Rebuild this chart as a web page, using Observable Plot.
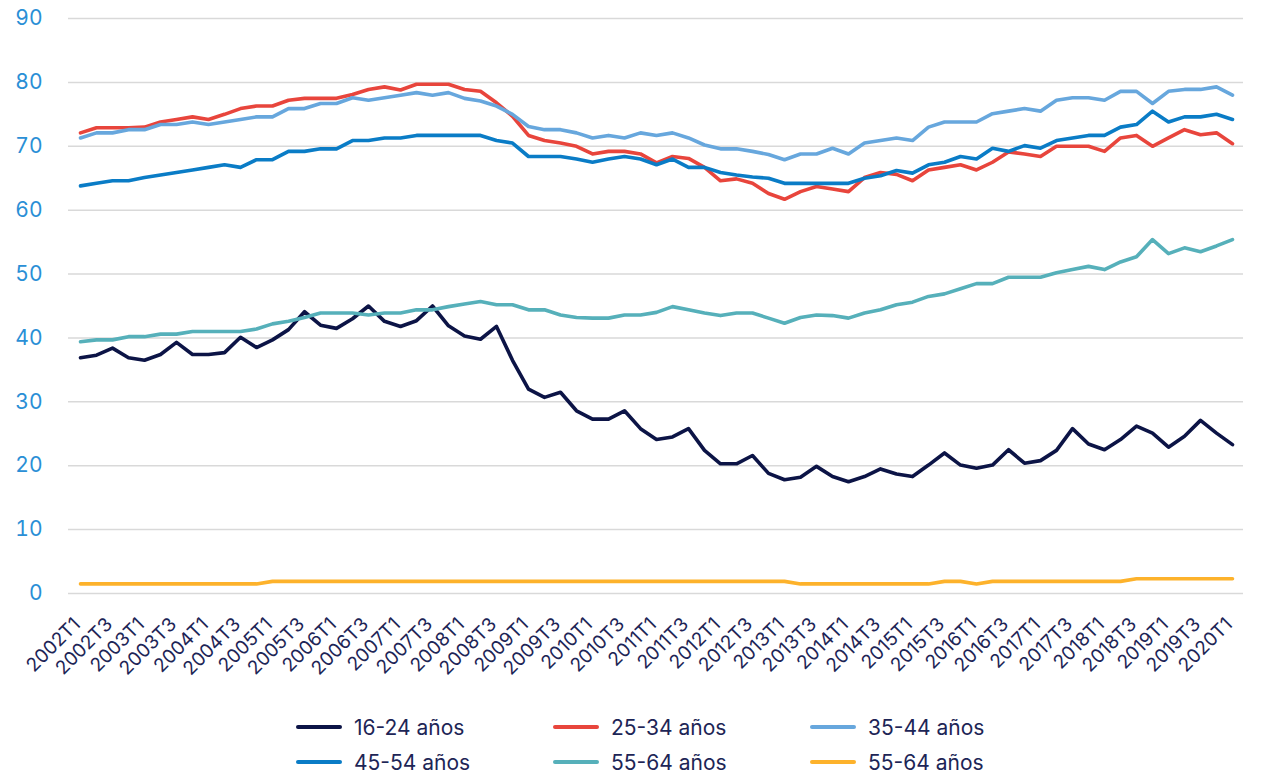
<!DOCTYPE html>
<html><head><meta charset="utf-8">
<script src="https://cdn.jsdelivr.net/npm/d3@7"></script>
<script src="https://cdn.jsdelivr.net/npm/@observablehq/plot@0.6"></script>
<style>
body{margin:0;background:#fff;font-family:Inter,"Noto Sans",sans-serif;}
#chart{position:relative;width:1263px;height:776px;overflow:hidden;}
.item{position:absolute;display:flex;align-items:center;height:26px;font-size:21px;color:#1d2556;white-space:nowrap;}
.sw{width:46px;height:4px;border-radius:2px;margin-right:12px;}
</style></head><body><div id="chart"></div>
<script>
const quarters = ["2002T1","2002T2","2002T3","2002T4","2003T1","2003T2","2003T3","2003T4","2004T1","2004T2","2004T3","2004T4",
"2005T1","2005T2","2005T3","2005T4","2006T1","2006T2","2006T3","2006T4","2007T1","2007T2","2007T3","2007T4",
"2008T1","2008T2","2008T3","2008T4","2009T1","2009T2","2009T3","2009T4","2010T1","2010T2","2010T3","2010T4",
"2011T1","2011T2","2011T3","2011T4","2012T1","2012T2","2012T3","2012T4","2013T1","2013T2","2013T3","2013T4",
"2014T1","2014T2","2014T3","2014T4","2015T1","2015T2","2015T3","2015T4","2016T1","2016T2","2016T3","2016T4",
"2017T1","2017T2","2017T3","2017T4","2018T1","2018T2","2018T3","2018T4","2019T1","2019T2","2019T3","2019T4","2020T1"];

const xTickLabels = ["2002T1","2002T3","2003T1","2003T3","2004T1","2004T3","2005T1","2005T3","2006T1","2006T3","2007T1","2007T3",
"2008T1","2008T3","2009T1","2009T3","2010T1","2010T3","2011T1","2011T3","2012T1","2012T3","2013T1","2013T3","2014T1","2014T3",
"2015T1","2015T3","2016T1","2016T3","2017T1","2017T3","2018T1","2018T3","2019T1","2019T3","2020T1"];

const yTicks = [0,10,20,30,40,50,60,70,80,90];

const s16_24 = [36.9,37.3,38.4,36.9,36.5,37.4,39.3,37.4,37.4,37.7,40.1,38.5,39.7,41.3,44.1,42.0,41.5,43.0,45.0,42.6,41.8,42.7,45.0,41.9,
40.3,39.8,41.8,36.5,32.0,30.7,31.5,28.6,27.3,27.3,28.6,25.8,24.1,24.5,25.8,22.4,20.3,20.3,21.6,18.8,17.8,18.2,19.9,18.3,
17.5,18.3,19.5,18.7,18.3,20.1,22.0,20.1,19.6,20.1,22.5,20.4,20.8,22.4,25.8,23.4,22.5,24.1,26.2,25.1,22.9,24.6,27.1,25.1,23.3];

const s25_34 = [72.1,72.9,72.9,72.9,73.0,73.8,74.2,74.6,74.2,75.0,75.9,76.3,76.3,77.2,77.5,77.5,77.5,78.1,78.9,79.3,78.8,79.7,79.7,79.7,
78.9,78.6,76.8,74.7,71.7,70.9,70.5,70.0,68.8,69.2,69.2,68.8,67.4,68.4,68.1,66.7,64.6,64.9,64.2,62.6,61.7,62.9,63.7,63.3,
62.9,65.1,65.9,65.6,64.6,66.3,66.7,67.1,66.3,67.5,69.1,68.8,68.4,70.0,70.0,70.0,69.2,71.3,71.7,70.0,71.3,72.6,71.8,72.1,70.4];

const s35_44 = [71.3,72.1,72.1,72.6,72.6,73.4,73.4,73.8,73.4,73.8,74.2,74.6,74.6,75.9,75.9,76.7,76.7,77.6,77.2,77.6,78.0,78.4,78.0,78.4,
77.5,77.1,76.3,75.0,73.1,72.6,72.6,72.1,71.3,71.7,71.3,72.1,71.7,72.1,71.3,70.2,69.6,69.6,69.2,68.7,67.9,68.8,68.8,69.7,
68.8,70.5,70.9,71.3,70.9,73.0,73.8,73.8,73.8,75.1,75.5,75.9,75.5,77.2,77.6,77.6,77.2,78.6,78.6,76.7,78.6,78.9,78.9,79.3,78.0];

const s45_54 = [63.8,64.2,64.6,64.6,65.1,65.5,65.9,66.3,66.7,67.1,66.7,67.9,67.9,69.2,69.2,69.6,69.6,70.9,70.9,71.3,71.3,71.7,71.7,71.7,
71.7,71.7,70.9,70.5,68.4,68.4,68.4,68.0,67.5,68.0,68.4,68.0,67.1,68.0,66.7,66.7,65.9,65.5,65.2,65.0,64.2,64.2,64.2,64.2,
64.2,65.0,65.4,66.2,65.8,67.1,67.5,68.4,68.0,69.7,69.2,70.1,69.7,70.9,71.3,71.7,71.7,73.0,73.4,75.5,73.8,74.6,74.6,75.0,74.2];

const s55_64 = [39.4,39.7,39.7,40.2,40.2,40.6,40.6,41.0,41.0,41.0,41.0,41.4,42.2,42.6,43.2,43.9,43.9,43.9,43.6,43.9,43.9,44.4,44.4,44.9,
45.3,45.7,45.2,45.2,44.4,44.4,43.6,43.2,43.1,43.1,43.6,43.6,44.0,44.9,44.4,43.9,43.5,43.9,43.9,43.1,42.3,43.2,43.6,43.5,
43.1,43.9,44.4,45.2,45.6,46.5,46.9,47.7,48.5,48.5,49.5,49.5,49.5,50.2,50.7,51.2,50.7,51.9,52.7,55.4,53.2,54.1,53.5,54.4,55.4];

const s65 = [1.5,1.5,1.5,1.5,1.5,1.5,1.5,1.5,1.5,1.5,1.5,1.5,1.9,1.9,1.9,1.9,1.9,1.9,1.9,1.9,1.9,1.9,1.9,1.9,
1.9,1.9,1.9,1.9,1.9,1.9,1.9,1.9,1.9,1.9,1.9,1.9,1.9,1.9,1.9,1.9,1.9,1.9,1.9,1.9,1.9,1.5,1.5,1.5,
1.5,1.5,1.5,1.5,1.5,1.5,1.9,1.9,1.5,1.9,1.9,1.9,1.9,1.9,1.9,1.9,1.9,1.9,2.3,2.3,2.3,2.3,2.3,2.3,2.3];

const seriesNames = ["16-24 años","25-34 años","35-44 años","45-54 años","55-64 años","55-64 años"];
const seriesColors = ["#0c1446","#e8453c","#67a7dd","#0a7cc6","#56b0ba","#fdb22b"];
const seriesValues = [s16_24, s25_34, s35_44, s45_54, s55_64, s65];

const rows = s => quarters.map((q, i) => ({q, v: s[i]}));

const lineMarks = seriesValues.map((s, k) =>
  Plot.line(rows(s), {x: "q", y: "v", stroke: seriesColors[k], strokeWidth: 3.6, strokeLinejoin: "round", strokeLinecap: "round"})
);

const plot = Plot.plot({
  width: 1263,
  height: 700,
  marginTop: 18,
  marginBottom: 107,
  marginLeft: 68,
  marginRight: 20,
  style: {fontFamily: "Inter, 'Noto Sans', sans-serif", background: "#fff"},
  x: {type: "point", domain: quarters, padding: 0.5, axis: null},
  y: {domain: [0, 90], axis: null},
  marks: [
    Plot.ruleY(yTicks, {stroke: "#d9d9d9", strokeWidth: 1.5}),
    Plot.text(yTicks, {y: d => d, frameAnchor: "left", dx: -26, textAnchor: "end", fontSize: 21, fill: "#2a8fd6"}),
    Plot.text(xTickLabels, {x: d => d, frameAnchor: "bottom", dy: 32, dx: 1, rotate: -45, textAnchor: "end", fontSize: 19, fill: "#1d2556"}),
    ...lineMarks
  ]
});

const chart = document.getElementById("chart");
chart.appendChild(plot);

const colLeft = [296, 553, 810];
const rowCenter = [727, 762];
seriesNames.forEach((name, k) => {
  const item = document.createElement("div");
  item.className = "item";
  item.style.left = colLeft[k % 3] + "px";
  item.style.top = (rowCenter[Math.floor(k / 3)] - 13) + "px";
  const sw = document.createElement("span");
  sw.className = "sw";
  sw.style.background = seriesColors[k];
  const tx = document.createElement("span");
  tx.textContent = name;
  item.appendChild(sw);
  item.appendChild(tx);
  chart.appendChild(item);
});
</script>
</body></html>
